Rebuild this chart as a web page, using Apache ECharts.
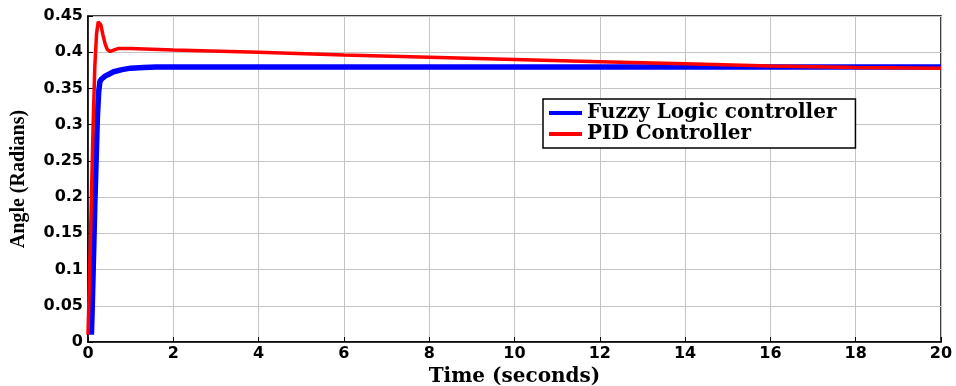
<!DOCTYPE html>
<html><head><meta charset="utf-8">
<script src="https://cdn.jsdelivr.net/npm/echarts@6/dist/echarts.min.js"></script>
<style>html,body{margin:0;padding:0;background:#fff}#c{width:956px;height:386px}</style>
</head><body><div id="c"></div>
<script>
const fuzzyT = [0.08,0.1,0.13,0.16,0.19,0.22,0.25,0.28,0.32,0.4,0.5,0.6,0.8,1.0,1.3,1.6,2,4,6,8,10,12,14,16,18,20];
const fuzzyV = [0.01,0.05,0.12,0.19,0.25,0.31,0.345,0.36,0.363,0.367,0.370,0.373,0.376,0.378,0.379,0.3795,0.3795,0.3795,0.3795,0.3795,0.3795,0.3795,0.3795,0.3795,0.3795,0.3795];
const pidT = [0,0.04,0.08,0.12,0.16,0.2,0.24,0.27,0.3,0.35,0.4,0.45,0.52,0.6,0.7,0.8,1.0,1.5,2,4,6,8,10,12,14,16,18,20];
const pidV = [0.01,0.1,0.2,0.3,0.38,0.425,0.442,0.444,0.438,0.424,0.412,0.404,0.401,0.403,0.405,0.405,0.405,0.404,0.403,0.400,0.396,0.393,0.390,0.387,0.384,0.381,0.379,0.378];
const seriesNames = ['Fuzzy Logic controller','PID Controller'];
const xTitle = 'Time (seconds)';
const yTitle = 'Angle (Radians)';

const zip = (a,b)=>a.map((t,i)=>[t,b[i]]);
const chart = echarts.init(document.getElementById('c'));
const tickFont = {fontFamily:'DejaVu Sans',fontWeight:'bold',fontSize:16,color:'#000'};
chart.setOption({
  animation:false,
  grid:{left:88,right:15,top:16,bottom:44,show:true,borderColor:'#000',borderWidth:1.5,outerBoundsMode:'none',containLabel:false},
  xAxis:{type:'value',min:0,max:20,interval:2,
    name:xTitle,nameLocation:'middle',nameGap:20,
    nameTextStyle:{fontFamily:'DejaVu Serif',fontWeight:'bold',fontSize:20,color:'#000'},
    axisLine:{lineStyle:{color:'#000',width:1.5}},
    axisTick:{inside:true,length:5,lineStyle:{color:'#000'}},
    axisLabel:Object.assign({margin:4},tickFont),
    splitLine:{show:true,lineStyle:{color:'#c4c4c4',width:1}}},
  yAxis:{type:'value',min:0,max:0.45,interval:0.05,
    name:yTitle,nameLocation:'middle',nameGap:59,
    nameTextStyle:{fontFamily:'Liberation Serif',fontWeight:'bold',fontSize:20,color:'#000'},
    axisLine:{lineStyle:{color:'#000',width:1.5}},
    axisTick:{inside:true,length:5,lineStyle:{color:'#000'}},
    axisLabel:Object.assign({margin:5,formatter:v=>String(parseFloat(v.toFixed(2)))},tickFont),
    splitLine:{show:true,lineStyle:{color:'#c4c4c4',width:1}}},
  legend:{orient:'vertical',left:543,top:99,
    backgroundColor:'#fff',borderColor:'#000',borderWidth:1.5,padding:[4,19,4,6],
    itemGap:1,itemWidth:33,itemHeight:4,icon:'rect',
    textStyle:{fontFamily:'DejaVu Serif',fontWeight:'bold',fontSize:20,color:'#000',width:262},
    data:seriesNames},
  series:[
    {name:seriesNames[0],type:'line',data:zip(fuzzyT,fuzzyV),showSymbol:false,color:'#0000ff',lineStyle:{width:5.5},z:2},
    {name:seriesNames[1],type:'line',data:zip(pidT,pidV),showSymbol:false,color:'#ff0000',lineStyle:{width:3.5},z:3}
  ]
});
</script></body></html>
